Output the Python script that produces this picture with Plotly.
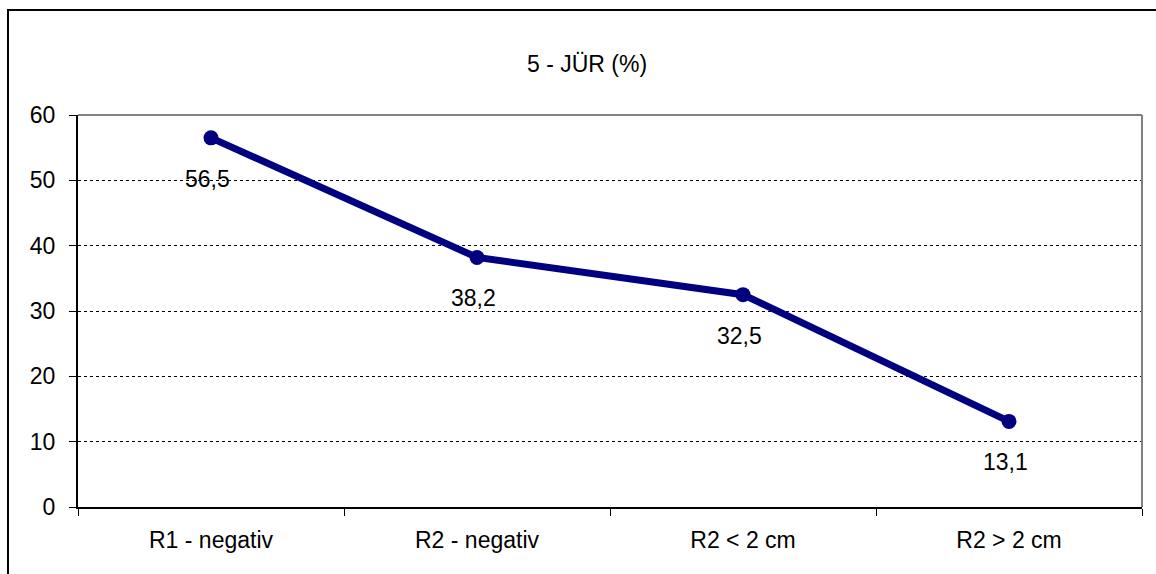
import plotly.graph_objects as go

# Survival categories and 5-year rates (%)
categories = ["R1 - negativ", "R2 - negativ", "R2 < 2 cm", "R2 > 2 cm"]
values = [56.5, 38.2, 32.5, 13.1]
y_ticks = [0, 10, 20, 30, 40, 50, 60]
title_text = "5 - JÜR (%)"

FONT = "Liberation Sans, Arial, sans-serif"
FS = 23
NAVY = "#000080"

fig = go.Figure()
fig.add_trace(go.Scatter(
    x=categories, y=values, mode="lines+markers",
    line=dict(color=NAVY, width=7),
    marker=dict(color=NAVY, size=15),
    hoverinfo="skip", showlegend=False,
))

# value labels underneath each point, decimal comma
for c, v in zip(categories, values):
    fig.add_annotation(
        x=c, y=v, xref="x", yref="y",
        text=f"{v:.1f}".replace(".", ","),
        showarrow=False, yshift=-41, xshift=-4,
        font=dict(family=FONT, size=FS, color="black"),
    )

# chart title
fig.add_annotation(
    x=(587 - 78) / 1064, y=(507 - 49) / 392, xref="paper", yref="paper",
    text=title_text, showarrow=False,
    font=dict(family=FONT, size=FS, color="black"),
)

# plot-area border (top and right in gray)
fig.add_shape(type="line", xref="paper", yref="paper", x0=0, x1=1, y0=1, y1=1,
              line=dict(color="#808080", width=2))
fig.add_shape(type="line", xref="paper", yref="paper", x0=1, x1=1, y0=0, y1=1,
              line=dict(color="#808080", width=2))
# outer chart frame
fig.add_shape(type="rect", xref="paper", yref="paper", x0=-0.0658, x1=1.1,
              y0=-0.3, y1=1.268, line=dict(color="black", width=2))

fig.update_xaxes(
    type="category", range=[-0.5, 3.5], showgrid=False,
    showline=True, linecolor="black", linewidth=2,
    ticks="outside", tickson="boundaries", ticklen=7, tickcolor="black", tickwidth=1,
    ticklabelstandoff=11,
    tickfont=dict(family=FONT, size=FS, color="black"), zeroline=False,
)
fig.update_yaxes(
    range=[0, 60], tickvals=y_ticks, showgrid=True, gridcolor="black",
    griddash="dot", gridwidth=1, showline=True, linecolor="black", linewidth=2,
    ticks="outside", ticklen=7, tickcolor="black", tickwidth=1,
    ticklabelstandoff=9,
    tickfont=dict(family=FONT, size=FS, color="black"), zeroline=False,
)

fig.update_layout(
    width=1156, height=574,
    margin=dict(l=78, r=14, t=115, b=67),
    paper_bgcolor="white", plot_bgcolor="white",
)

fig.write_html("out.html")
